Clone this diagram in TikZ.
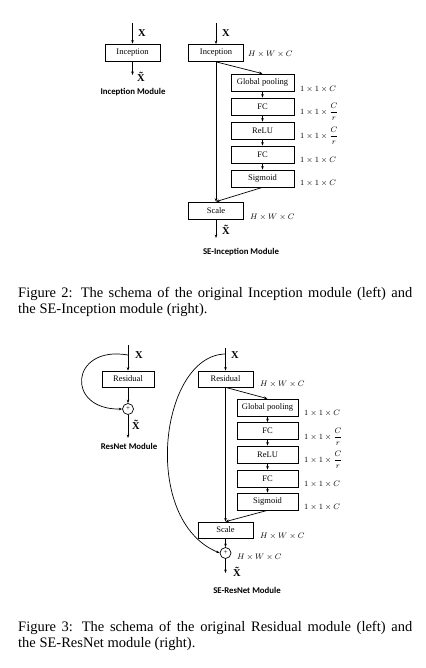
\documentclass[tikz,border=0pt]{standalone}
\usepackage{fontspec}
\setmainfont{Liberation Serif}
\newfontfamily\modfont{Carlito}
\usetikzlibrary{arrows.meta}
\newcommand{\xtl}{\textbf{X^^^^0303}}
\begin{document}
\begin{tikzpicture}[x=1pt,y=-1pt,
  box/.style={draw, line width=0.7pt, minimum width=55pt, minimum height=17pt, inner sep=0pt, font=\fontsize{8.5}{10}\selectfont},
  sebox/.style={box, minimum width=63pt},
  sebox2/.style={box, minimum width=61pt},
  dim/.style={anchor=west, inner sep=0pt, font=\fontsize{7.8}{9}\selectfont},
  lbl/.style={inner sep=0pt, anchor=west, font=\fontsize{10.5}{11}\selectfont},
  modlbl/.style={inner sep=0pt, font=\modfont\bfseries\fontsize{8.8}{10}\selectfont},
  arr/.style={-{Stealth[length=3.5pt,width=2.6pt]}, line width=0.7pt},
  plusnode/.style={draw, circle, line width=0.7pt, minimum size=11pt, inner sep=0pt, font=\fontsize{7}{7}\selectfont},
  capline/.style={anchor=base west, inner sep=0pt, font=\fontsize{14.5}{17}\selectfont}
]
\useasboundingbox (0,0) rectangle (425,668);

% ---------- Inception module (left) ----------
\node[box] (incA) at (132.5,52.5) {Inception};
\coordinate (inA) at (132.5,23);
\coordinate (outA) at (132.5,75);
\draw[arr] (inA) -- (incA);
\draw[arr] (incA) -- (outA);
\node[lbl] (xA) at (138,33) {\textbf{X}};
\node[lbl] (xtA) at (137,77) {\xtl};
\node[modlbl] (mA) at (133,92) {Inception Module};

% ---------- SE-Inception module ----------
\node[box] (incB) at (216,53) {Inception};
\node[sebox] (gpB) at (262.5,82.5) {Global pooling};
\node[sebox] (fc1B) at (262.5,106.5) {FC};
\node[sebox] (reB) at (262.5,130.5) {ReLU};
\node[sebox] (fc2B) at (262.5,154.5) {FC};
\node[sebox] (sgB) at (262.5,178.5) {Sigmoid};
\node[box] (scB) at (216,210.5) {Scale};
\coordinate (inB) at (216,23);
\coordinate (outB) at (216,238);
\draw[arr] (inB) -- (incB);
\draw[arr] (incB.south) -- (gpB.north);
\draw[arr] (gpB) -- (fc1B);
\draw[arr] (fc1B) -- (reB);
\draw[arr] (reB) -- (fc2B);
\draw[arr] (fc2B) -- (sgB);
\draw[arr] (incB.south) -- (scB.north);
\draw[arr] (sgB.south) -- (scB.north);
\draw[arr] (scB) -- (outB);
\node[lbl] (xB) at (222,33) {\textbf{X}};
\node[lbl] (xtB) at (222,230) {\xtl};
\node[dim] (dB0) at (248,54) {$H\times W\times C$};
\node[dim] (dB1) at (300,89) {$1\times 1\times C$};
\node[dim] (dB2) at (300,112) {$1\times 1\times {\displaystyle\frac{C}{r}}$};
\node[dim] (dB3) at (300,136) {$1\times 1\times {\displaystyle\frac{C}{r}}$};
\node[dim] (dB4) at (300,160) {$1\times 1\times C$};
\node[dim] (dB5) at (300,183) {$1\times 1\times C$};
\node[dim] (dB6) at (250,217) {$H\times W\times C$};
\node[modlbl] (mB) at (241,252) {SE-Inception Module};

% ---------- Caption 2 ----------
\node[capline] (c2a) at (18,297) {\makebox[394pt][s]{Figure 2: The schema of the original Inception module (left) and}};
\node[capline] (c2b) at (18,313) {the SE-Inception module (right).};

% ---------- ResNet module (left) ----------
\node[box, minimum width=52pt, minimum height=16pt] (resC) at (128,379) {Residual};
\node[plusnode] (addC) at (128,409) {+};
\coordinate (inC) at (128,345);
\coordinate (brC) at (128,355);
\coordinate (outC) at (128,438);
\draw[arr] (inC) -- (resC);
\draw[arr] (resC) -- (addC);
\draw[arr] (addC) -- (outC);
\draw[arr] (brC) .. controls (70,345) and (65,410) .. (addC.west);
\node[lbl] (xC) at (135,355) {\textbf{X}};
\node[lbl] (xtC) at (132,425) {\xtl};
\node[modlbl] (mC) at (129,446) {ResNet Module};

% ---------- SE-ResNet module ----------
\node[box, minimum height=16pt] (resD) at (225.5,379) {Residual};
\node[sebox2] (gpD) at (267.5,407.5) {Global pooling};
\node[sebox2] (fc1D) at (267.5,431) {FC};
\node[sebox2] (reD) at (267.5,454.5) {ReLU};
\node[sebox2] (fc2D) at (267.5,478.5) {FC};
\node[sebox2] (sgD) at (267.5,501.5) {Sigmoid};
\node[box, minimum height=16pt] (scD) at (225.5,530) {Scale};
\node[plusnode] (addD) at (225.5,553) {+};
\coordinate (inD) at (225.5,348);
\coordinate (brD) at (225.5,354);
\coordinate (outD) at (225.5,573);
\draw[arr] (inD) -- (resD);
\draw[arr] (resD.south) -- (gpD.north);
\draw[arr] (gpD) -- (fc1D);
\draw[arr] (fc1D) -- (reD);
\draw[arr] (reD) -- (fc2D);
\draw[arr] (fc2D) -- (sgD);
\draw[arr] (resD.south) -- (scD.north);
\draw[arr] (sgD.south) -- (scD.north);
\draw[arr] (scD) -- (addD);
\draw[arr] (addD) -- (outD);
\draw[arr] (brD) .. controls (160,355) and (140,520) .. (addD.west);
\node[lbl] (xD) at (231,355) {\textbf{X}};
\node[lbl] (xtD) at (233,572) {\xtl};
\node[dim] (dD0) at (260,384) {$H\times W\times C$};
\node[dim] (dD1) at (304,413) {$1\times 1\times C$};
\node[dim] (dD2) at (304,437) {$1\times 1\times {\displaystyle\frac{C}{r}}$};
\node[dim] (dD3) at (304,460) {$1\times 1\times {\displaystyle\frac{C}{r}}$};
\node[dim] (dD4) at (304,484) {$1\times 1\times C$};
\node[dim] (dD5) at (304,507) {$1\times 1\times C$};
\node[dim] (dD6) at (260,536) {$H\times W\times C$};
\node[dim] (dD7) at (237,557) {$H\times W\times C$};
\node[modlbl] (mD) at (247,590) {SE-ResNet Module};

% ---------- Caption 3 ----------
\node[capline] (c3a) at (18,631) {\makebox[394pt][s]{Figure 3: The schema of the original Residual module (left) and}};
\node[capline] (c3b) at (18,647) {the SE-ResNet module (right).};
\end{tikzpicture}
\end{document}
